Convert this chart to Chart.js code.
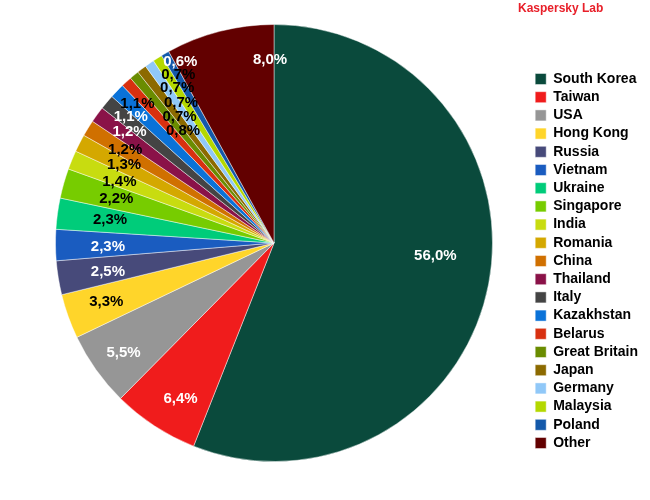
<!DOCTYPE html>
<html>
<head>
<meta charset="utf-8">
<script src="https://cdn.jsdelivr.net/npm/chart.js@4/dist/chart.umd.min.js"></script>
<style>
  html, body { margin: 0; padding: 0; background: #ffffff; }
  #wrap { width: 650px; height: 500px; position: relative; }
</style>
</head>
<body>
<div id="wrap"><canvas id="c" width="650" height="500"></canvas></div>
<script>
// ---- data ----
const categories = ["South Korea", "Taiwan", "USA", "Hong Kong", "Russia", "Vietnam", "Ukraine",
  "Singapore", "India", "Romania", "China", "Thailand", "Italy", "Kazakhstan", "Belarus",
  "Great Britain", "Japan", "Germany", "Malaysia", "Poland", "Other"];
const shares = [56.0, 6.4, 5.5, 3.3, 2.5, 2.3, 2.3, 2.2, 1.4, 1.3, 1.2, 1.2, 1.1, 1.1, 0.8,
  0.7, 0.7, 0.7, 0.7, 0.6, 8.0];
const sourceLabel = "Kaspersky Lab";

// ---- styles ----
const sliceColors = ["#0A4A3C", "#F01C1C", "#969696", "#FFD52A", "#474A7A", "#1A5CC0", "#00CC7A",
  "#77CC00", "#C8DC10", "#D4A800", "#D07000", "#8A1248", "#444444", "#0A72D8", "#D83010",
  "#6A8C00", "#8C6A00", "#90C8F8", "#B4D800", "#1459AA", "#620000"];
const labelInk = ["#fff", "#fff", "#fff", "#000", "#fff", "#fff", "#000", "#000", "#000", "#000",
  "#000", "#fff", "#fff", "#000", "#000", "#000", "#000", "#000", "#000", "#fff", "#fff"];
// label placement relative to slice (radius fraction, angle shift in degrees)
const labelRadius = [0.74, 0.82, 0.845, 0.81, 0.77, 0.76, 0.76, 0.753, 0.765, 0.78, 0.81, 0.84,
  0.88, 0.90, 0.67, 0.73, 0.78, 0.845, 0.895, 0.945, 0.85];
const labelShift = [-7.2, -1.7, 0, 1, 0, 0, 1.3, 0.8, 0, 1.2, 1.1, 2.1, 1.7, 1.9, 4.1, 3.5, 4.2,
  3.1, 2.9, 2.9, 13.2];

const FONT = "'Liberation Sans', Arial, sans-serif";

const sliceLabels = {
  id: 'sliceLabels',
  afterDatasetsDraw(chart) {
    const ctx = chart.ctx;
    const meta = chart.getDatasetMeta(0);
    ctx.save();
    ctx.font = "bold 15px " + FONT;
    ctx.textAlign = 'center';
    ctx.textBaseline = 'middle';
    meta.data.forEach((arc, i) => {
      const p = arc.getProps(['x', 'y', 'startAngle', 'endAngle', 'outerRadius'], true);
      const mid = (p.startAngle + p.endAngle) / 2 + labelShift[i] * Math.PI / 180;
      const r = p.outerRadius * labelRadius[i];
      const tx = p.x + Math.cos(mid) * r;
      const ty = p.y + Math.sin(mid) * r + 2.5;
      ctx.fillStyle = labelInk[i];
      ctx.fillText(shares[i].toFixed(1).replace('.', ',') + '%', tx, ty);
    });
    ctx.restore();
  }
};

const sourceMark = {
  id: 'sourceMark',
  afterDraw(chart) {
    const ctx = chart.ctx;
    ctx.save();
    ctx.font = "bold 12px " + FONT;
    ctx.fillStyle = '#E8202A';
    ctx.textAlign = 'left';
    ctx.textBaseline = 'middle';
    ctx.fillText(sourceLabel, 518, 9);
    ctx.restore();
  }
};

const legendNudge = {
  id: 'legendNudge',
  afterLayout(chart) {
    if (chart.legend) {
      chart.legend.top += 18;
      chart.legend.bottom += 18;
    }
  }
};

new Chart(document.getElementById('c'), {
  type: 'pie',
  data: {
    labels: categories,
    datasets: [{
      data: shares,
      backgroundColor: sliceColors,
      borderColor: 'rgba(255,255,255,0.45)',
      borderWidth: 1
    }]
  },
  options: {
    responsive: false,
    animation: false,
    devicePixelRatio: 1,
    layout: { padding: { left: 17, right: 2, top: 24, bottom: 38 } },
    plugins: {
      legend: {
        position: 'right',
        align: 'center',
        labels: {
          boxWidth: 11,
          boxHeight: 11,
          padding: 4.2,
          color: '#000',
          font: { family: FONT, size: 14, weight: 'bold' }
        }
      },
      tooltip: { enabled: false }
    }
  },
  plugins: [sliceLabels, sourceMark, legendNudge]
});
</script>
</body>
</html>
